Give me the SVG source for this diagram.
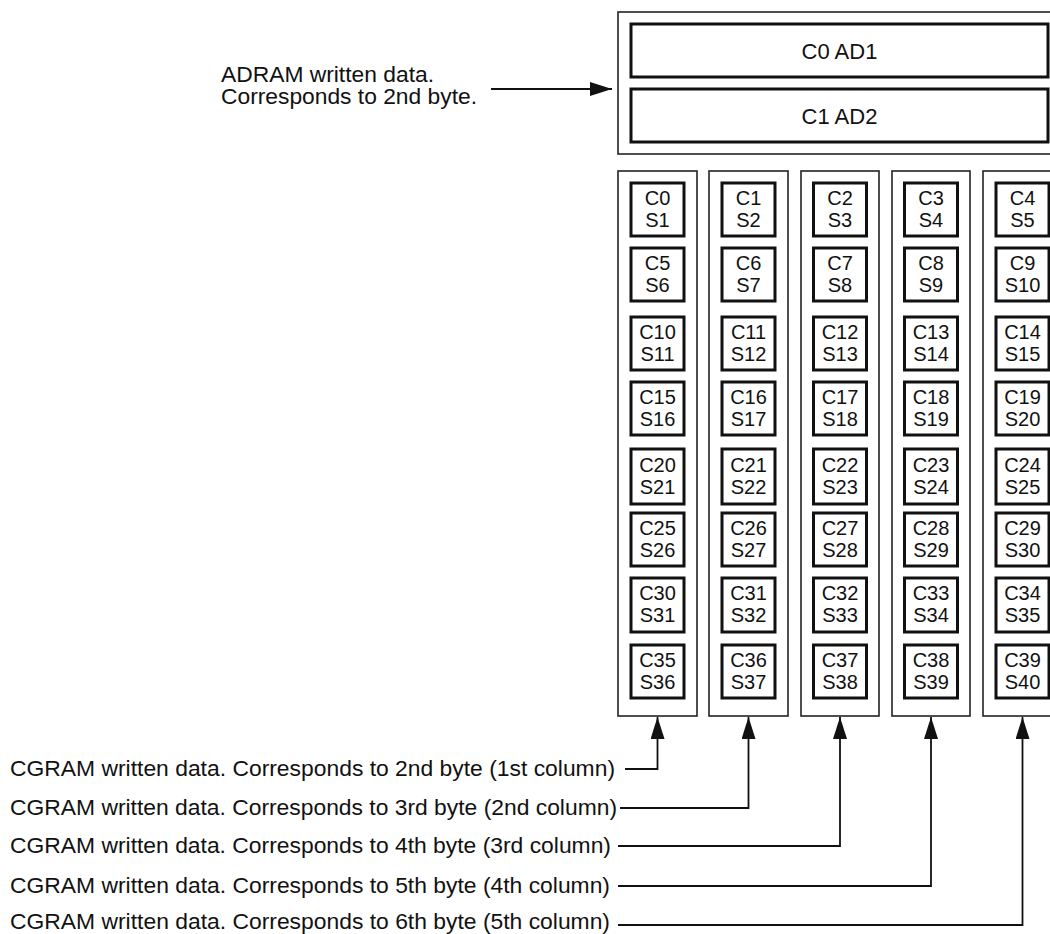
<svg xmlns="http://www.w3.org/2000/svg" width="1050" height="934" viewBox="0 0 1050 934">
<defs>
<style>
.frame{fill:#fff;stroke:#222;stroke-width:1.6}
.cell{fill:#fff;stroke:#111;stroke-width:3}
.lbl{font-family:"Liberation Sans",Arial,sans-serif;font-size:21.5px;fill:#111}
.ct{font-family:"Liberation Sans",Arial,sans-serif;font-size:20px;fill:#111;text-anchor:middle}
.ad{font-family:"Liberation Sans",Arial,sans-serif;font-size:22px;fill:#111;text-anchor:middle}
.wire{fill:none;stroke:#111;stroke-width:1.8}
</style>
<marker id="ah" viewBox="0 0 22 14" refX="22" refY="7" markerWidth="22" markerHeight="14" markerUnits="userSpaceOnUse" orient="auto">
<path d="M0,0 L22,7 L0,14 Z" fill="#111"/>
</marker>
</defs>

<g id="adram">
<rect class="frame" x="618" y="12" width="445" height="142"/>
<g id="ad1"><rect class="cell" x="631" y="24" width="417" height="53"/><text class="ad" x="839.5" y="58.5">C0 AD1</text></g>
<g id="ad2"><rect class="cell" x="631" y="89" width="417" height="53"/><text class="ad" x="839.5" y="123.5">C1 AD2</text></g>
</g>

<g id="adram-label">
<text class="lbl" x="221" y="82" textLength="213" lengthAdjust="spacingAndGlyphs">ADRAM written data.</text>
<text class="lbl" x="221" y="104" textLength="256" lengthAdjust="spacingAndGlyphs">Corresponds to 2nd byte.</text>
</g>

<g id="col1">
<rect class="frame" x="618" y="171" width="79" height="545"/>
<g id="c0"><rect class="cell" x="631" y="183" width="53" height="53"/><text class="ct" x="657.5" y="205">C0</text><text class="ct" x="657.5" y="227">S1</text></g>
<g id="c5"><rect class="cell" x="631" y="248" width="53" height="53"/><text class="ct" x="657.5" y="270">C5</text><text class="ct" x="657.5" y="292">S6</text></g>
<g id="c10"><rect class="cell" x="631" y="317" width="53" height="53"/><text class="ct" x="657.5" y="339">C10</text><text class="ct" x="657.5" y="361">S11</text></g>
<g id="c15"><rect class="cell" x="631" y="382" width="53" height="53"/><text class="ct" x="657.5" y="404">C15</text><text class="ct" x="657.5" y="426">S16</text></g>
<g id="c20"><rect class="cell" x="631" y="449" width="53" height="55"/><text class="ct" x="657.5" y="472">C20</text><text class="ct" x="657.5" y="494">S21</text></g>
<g id="c25"><rect class="cell" x="631" y="513" width="53" height="53"/><text class="ct" x="657.5" y="535">C25</text><text class="ct" x="657.5" y="557">S26</text></g>
<g id="c30"><rect class="cell" x="631" y="578" width="53" height="54"/><text class="ct" x="657.5" y="600">C30</text><text class="ct" x="657.5" y="622">S31</text></g>
<g id="c35"><rect class="cell" x="631" y="645" width="53" height="53"/><text class="ct" x="657.5" y="667">C35</text><text class="ct" x="657.5" y="689">S36</text></g>
</g>

<g id="col2">
<rect class="frame" x="709" y="171" width="79" height="545"/>
<g id="c1"><rect class="cell" x="722" y="183" width="53" height="53"/><text class="ct" x="748.5" y="205">C1</text><text class="ct" x="748.5" y="227">S2</text></g>
<g id="c6"><rect class="cell" x="722" y="248" width="53" height="53"/><text class="ct" x="748.5" y="270">C6</text><text class="ct" x="748.5" y="292">S7</text></g>
<g id="c11"><rect class="cell" x="722" y="317" width="53" height="53"/><text class="ct" x="748.5" y="339">C11</text><text class="ct" x="748.5" y="361">S12</text></g>
<g id="c16"><rect class="cell" x="722" y="382" width="53" height="53"/><text class="ct" x="748.5" y="404">C16</text><text class="ct" x="748.5" y="426">S17</text></g>
<g id="c21"><rect class="cell" x="722" y="449" width="53" height="55"/><text class="ct" x="748.5" y="472">C21</text><text class="ct" x="748.5" y="494">S22</text></g>
<g id="c26"><rect class="cell" x="722" y="513" width="53" height="53"/><text class="ct" x="748.5" y="535">C26</text><text class="ct" x="748.5" y="557">S27</text></g>
<g id="c31"><rect class="cell" x="722" y="578" width="53" height="54"/><text class="ct" x="748.5" y="600">C31</text><text class="ct" x="748.5" y="622">S32</text></g>
<g id="c36"><rect class="cell" x="722" y="645" width="53" height="53"/><text class="ct" x="748.5" y="667">C36</text><text class="ct" x="748.5" y="689">S37</text></g>
</g>

<g id="col3">
<rect class="frame" x="801" y="171" width="78" height="545"/>
<g id="c2"><rect class="cell" x="813.5" y="183" width="53" height="53"/><text class="ct" x="840" y="205">C2</text><text class="ct" x="840" y="227">S3</text></g>
<g id="c7"><rect class="cell" x="813.5" y="248" width="53" height="53"/><text class="ct" x="840" y="270">C7</text><text class="ct" x="840" y="292">S8</text></g>
<g id="c12"><rect class="cell" x="813.5" y="317" width="53" height="53"/><text class="ct" x="840" y="339">C12</text><text class="ct" x="840" y="361">S13</text></g>
<g id="c17"><rect class="cell" x="813.5" y="382" width="53" height="53"/><text class="ct" x="840" y="404">C17</text><text class="ct" x="840" y="426">S18</text></g>
<g id="c22"><rect class="cell" x="813.5" y="449" width="53" height="55"/><text class="ct" x="840" y="472">C22</text><text class="ct" x="840" y="494">S23</text></g>
<g id="c27"><rect class="cell" x="813.5" y="513" width="53" height="53"/><text class="ct" x="840" y="535">C27</text><text class="ct" x="840" y="557">S28</text></g>
<g id="c32"><rect class="cell" x="813.5" y="578" width="53" height="54"/><text class="ct" x="840" y="600">C32</text><text class="ct" x="840" y="622">S33</text></g>
<g id="c37"><rect class="cell" x="813.5" y="645" width="53" height="53"/><text class="ct" x="840" y="667">C37</text><text class="ct" x="840" y="689">S38</text></g>
</g>

<g id="col4">
<rect class="frame" x="892" y="171" width="78" height="545"/>
<g id="c3"><rect class="cell" x="904.5" y="183" width="53" height="53"/><text class="ct" x="931" y="205">C3</text><text class="ct" x="931" y="227">S4</text></g>
<g id="c8"><rect class="cell" x="904.5" y="248" width="53" height="53"/><text class="ct" x="931" y="270">C8</text><text class="ct" x="931" y="292">S9</text></g>
<g id="c13"><rect class="cell" x="904.5" y="317" width="53" height="53"/><text class="ct" x="931" y="339">C13</text><text class="ct" x="931" y="361">S14</text></g>
<g id="c18"><rect class="cell" x="904.5" y="382" width="53" height="53"/><text class="ct" x="931" y="404">C18</text><text class="ct" x="931" y="426">S19</text></g>
<g id="c23"><rect class="cell" x="904.5" y="449" width="53" height="55"/><text class="ct" x="931" y="472">C23</text><text class="ct" x="931" y="494">S24</text></g>
<g id="c28"><rect class="cell" x="904.5" y="513" width="53" height="53"/><text class="ct" x="931" y="535">C28</text><text class="ct" x="931" y="557">S29</text></g>
<g id="c33"><rect class="cell" x="904.5" y="578" width="53" height="54"/><text class="ct" x="931" y="600">C33</text><text class="ct" x="931" y="622">S34</text></g>
<g id="c38"><rect class="cell" x="904.5" y="645" width="53" height="53"/><text class="ct" x="931" y="667">C38</text><text class="ct" x="931" y="689">S39</text></g>
</g>

<g id="col5">
<rect class="frame" x="983" y="171" width="79" height="545"/>
<g id="c4"><rect class="cell" x="996" y="183" width="53" height="53"/><text class="ct" x="1022.5" y="205">C4</text><text class="ct" x="1022.5" y="227">S5</text></g>
<g id="c9"><rect class="cell" x="996" y="248" width="53" height="53"/><text class="ct" x="1022.5" y="270">C9</text><text class="ct" x="1022.5" y="292">S10</text></g>
<g id="c14"><rect class="cell" x="996" y="317" width="53" height="53"/><text class="ct" x="1022.5" y="339">C14</text><text class="ct" x="1022.5" y="361">S15</text></g>
<g id="c19"><rect class="cell" x="996" y="382" width="53" height="53"/><text class="ct" x="1022.5" y="404">C19</text><text class="ct" x="1022.5" y="426">S20</text></g>
<g id="c24"><rect class="cell" x="996" y="449" width="53" height="55"/><text class="ct" x="1022.5" y="472">C24</text><text class="ct" x="1022.5" y="494">S25</text></g>
<g id="c29"><rect class="cell" x="996" y="513" width="53" height="53"/><text class="ct" x="1022.5" y="535">C29</text><text class="ct" x="1022.5" y="557">S30</text></g>
<g id="c34"><rect class="cell" x="996" y="578" width="53" height="54"/><text class="ct" x="1022.5" y="600">C34</text><text class="ct" x="1022.5" y="622">S35</text></g>
<g id="c39"><rect class="cell" x="996" y="645" width="53" height="53"/><text class="ct" x="1022.5" y="667">C39</text><text class="ct" x="1022.5" y="689">S40</text></g>
</g>

<g id="cgram-labels">
<text class="lbl" x="10" y="776" textLength="605" lengthAdjust="spacingAndGlyphs">CGRAM written data. Corresponds to 2nd byte (1st column)</text>
<text class="lbl" x="10" y="815" textLength="607" lengthAdjust="spacingAndGlyphs">CGRAM written data. Corresponds to 3rd byte (2nd column)</text>
<text class="lbl" x="10" y="853" textLength="601" lengthAdjust="spacingAndGlyphs">CGRAM written data. Corresponds to 4th byte (3rd column)</text>
<text class="lbl" x="10" y="893" textLength="600" lengthAdjust="spacingAndGlyphs">CGRAM written data. Corresponds to 5th byte (4th column)</text>
<text class="lbl" x="10" y="929" textLength="600" lengthAdjust="spacingAndGlyphs">CGRAM written data. Corresponds to 6th byte (5th column)</text>
</g>

<g id="connectors">
<path class="wire" d="M491,89 H612" marker-end="url(#ah)"/>
<path class="wire" d="M625,769 H657.5 V717" marker-end="url(#ah)"/>
<path class="wire" d="M620,808 H748.5 V717" marker-end="url(#ah)"/>
<path class="wire" d="M618,846 H840 V717" marker-end="url(#ah)"/>
<path class="wire" d="M618,886 H931 V717" marker-end="url(#ah)"/>
<path class="wire" d="M618,925 H1022.5 V717" marker-end="url(#ah)"/>
</g>
</svg>
